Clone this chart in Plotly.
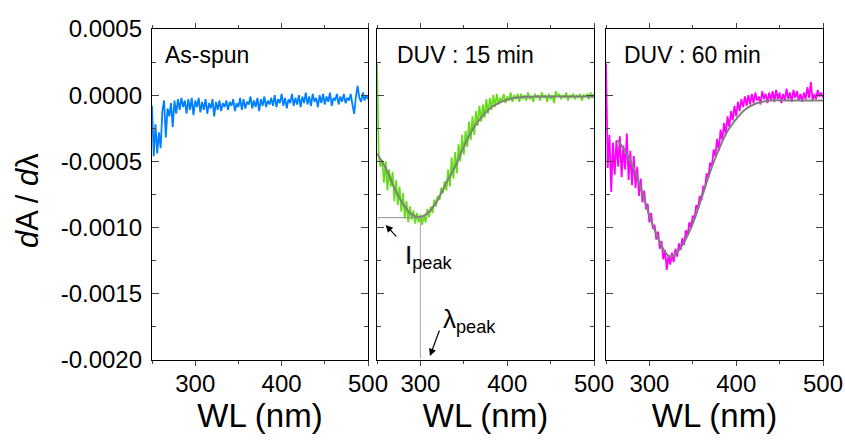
import plotly.graph_objects as go
from plotly.subplots import make_subplots

# wavelength grid (nm), 2 nm steps
wl = list(range(250, 501, 2))

# dA/dλ values in units of 1e-4
as_spun_e4 = [
    -0.8, -4.6, -2.2, -4.4, -2.8, -4.0, -1.2, -0.4, -3.2, -1.0,
    -1.6, -0.6, -2.4, -0.4, -1.4, -0.3, -1.1, -0.2, -0.9, -0.4,
    -1.4, -0.3, -1.1, -0.2, -1.5, -0.4, -0.9, -0.2, -1.3, -0.5,
    -1.1, -0.3, -1.4, -0.6, -1.0, -0.3, -1.6, -0.5, -1.1, -0.4,
    -1.2, -0.6, -0.9, -0.4, -1.1, -0.5, -0.8, -0.3, -1.2, -0.6,
    -0.9, -0.2, -1.1, -0.3, -1.0, -0.5, -0.7, -0.1, -1.0, -0.4,
    -0.9, -0.2, -1.2, -0.3, -0.8, -0.1, -0.9, -0.4, -0.7, -0.2,
    -0.8, 0.0, -0.9, -0.3, -0.6, 0.1, -0.8, -0.2, -1.0, -0.3,
    -0.6, 0.1, -0.8, -0.2, -0.7, 0.0, -0.9, -0.1, -0.6, 0.2,
    -0.7, -0.1, -0.8, 0.1, -0.5, -0.2, -0.9, 0.0, -0.6, 0.1,
    -0.7, -0.1, -0.5, 0.2, -0.8, -0.2, -0.4, 0.1, -0.7, -0.1,
    -0.5, 0.1, -0.6, -0.2, -0.4, 0.1, -0.7, -1.4, -0.1, 0.7,
    -0.2, -0.5, 0.2, -0.4, 0.0, -0.3,
]

duv15_e4 = [
    2.4, -4.6, -5.4, -4.9, -6.6, -5.0, -7.2, -5.6, -6.9, -5.8,
    -8.0, -6.4, -8.3, -6.9, -8.8, -7.4, -9.3, -8.0, -9.6, -8.4,
    -9.4, -8.7, -9.7, -8.9, -9.6, -9.0, -9.8, -9.1, -9.6, -8.6,
    -9.2, -8.4, -8.9, -7.9, -8.4, -7.6, -7.9, -7.0, -7.4, -6.5,
    -7.2, -5.6, -6.9, -4.7, -6.3, -4.3, -5.9, -3.7, -5.0, -3.0,
    -4.5, -2.7, -3.9, -2.0, -3.4, -1.6, -3.0, -1.2, -2.3, -0.8,
    -2.0, -0.7, -1.7, -0.3, -1.4, -0.2, -1.1, 0.0, -0.9, 0.1,
    -0.7, -0.2, -0.5, 0.1, -0.6, -0.1, -0.4, 0.2, -0.5, 0.0,
    -0.3, 0.1, -0.5, 0.1, -0.3, 0.0, -0.4, 0.2, -0.3, -0.1,
    -0.5, 0.1, -0.2, 0.0, -0.4, 0.2, -0.2, 0.0, -0.5, 0.1,
    -0.3, 0.0, -0.6, 0.3, -0.1, 0.1, -0.3, 0.0, -0.2, 0.2,
    -0.4, 0.0, -0.2, 0.1, -0.3, 0.0, -0.2, 0.1, -0.4, 0.0,
    -0.1, 0.1, -0.3, 0.2, -0.2, 0.1,
]

duv60_e4 = [
    2.4, -5.5, -3.0, -7.3, -3.6, -6.0, -3.4, -5.4, -3.1, -6.2,
    -3.8, -5.6, -2.9, -6.4, -4.2, -6.8, -4.6, -7.0, -5.4, -7.6,
    -6.3, -8.1, -7.2, -8.6, -8.2, -9.6, -8.9, -10.1, -9.8, -10.9,
    -10.3, -11.6, -11.0, -12.4, -11.7, -13.2, -12.1, -12.8, -11.9, -12.6,
    -11.6, -12.2, -11.2, -11.7, -10.8, -11.3, -10.2, -10.6, -9.6, -10.0,
    -9.1, -9.3, -8.3, -8.6, -7.6, -7.9, -6.9, -7.0, -5.9, -6.2,
    -5.1, -5.4, -4.1, -4.6, -3.3, -4.2, -2.6, -3.4, -2.1, -3.0,
    -1.6, -2.4, -1.2, -1.9, -0.8, -1.6, -0.5, -1.2, -0.3, -0.9,
    -0.1, -0.8, 0.0, -0.7, 0.1, -0.6, 0.2, -0.4, -0.1, -0.7,
    0.3, -0.3, 0.1, -0.6, 0.2, -0.4, 0.3, -0.5, 0.4, -0.3,
    0.2, -0.6, 0.1, -0.4, 0.5, -0.3, 0.2, -0.5, 0.4, -0.2,
    0.3, -0.4, 0.1, -0.5, 0.2, -0.3, 0.6, -0.2, 1.0, -0.4,
    0.1, -0.3, 0.4, -0.1, 0.2, -0.2,
]

# gaussian-like fit curves (gray)
fit15_wl = [250, 260, 270, 280, 290, 300, 310, 320, 330, 340, 350, 360,
            370, 380, 390, 400, 410, 420, 440, 460, 480, 500]
fit15_e4 = [-4.4, -5.5, -7.0, -8.2, -9.0, -9.2, -8.8, -7.9, -6.6, -5.4, -3.9, -2.6,
            -1.7, -1.0, -0.6, -0.35, -0.2, -0.12, -0.1, -0.1, -0.1, -0.1]

fit60_wl = [263, 270, 280, 290, 300, 310, 320, 325, 330, 340, 350, 360, 370,
            380, 390, 400, 410, 420, 430, 440, 460, 480, 500]
fit60_e4 = [-3.4, -4.0, -5.2, -7.0, -9.1, -10.8, -12.0, -12.2, -12.0, -11.1, -9.7, -7.8, -5.8,
            -4.1, -2.7, -1.8, -1.1, -0.7, -0.5, -0.4, -0.4, -0.4, -0.4]

peak_wl = 300
peak_val = -0.000925

y_vals = [0.0005, 0.0, -0.0005, -0.0010, -0.0015, -0.0020]
y_text = ["0.0005", "0.0000", "-0.0005", "-0.0010", "-0.0015", "-0.0020"]

panel_labels = ["As-spun", "DUV : 15 min", "DUV : 60 min"]


def e4(vals):
    return [v * 1e-4 for v in vals]


W, H = 845, 440
font = "Liberation Sans, Arial, sans-serif"

fig = make_subplots(rows=1, cols=3)

fig.add_trace(go.Scatter(x=wl, y=e4(as_spun_e4), mode="lines",
                         line=dict(color="#0080FF", width=1.8)), row=1, col=1)
fig.add_trace(go.Scatter(x=wl, y=e4(duv15_e4), mode="lines",
                         line=dict(color="#66DD1A", width=1.8)), row=1, col=2)
fig.add_trace(go.Scatter(x=fit15_wl, y=e4(fit15_e4), mode="lines",
                         line=dict(color="#808080", width=2, shape="spline")), row=1, col=2)
fig.add_trace(go.Scatter(x=wl, y=e4(duv60_e4), mode="lines",
                         line=dict(color="#FF00FF", width=1.8)), row=1, col=3)
fig.add_trace(go.Scatter(x=fit60_wl, y=e4(fit60_e4), mode="lines",
                         line=dict(color="#808080", width=2, shape="spline")), row=1, col=3)

# peak guide lines
fig.add_trace(go.Scatter(x=[250, peak_wl], y=[peak_val, peak_val], mode="lines",
                         line=dict(color="#909090", width=1)), row=1, col=2)
fig.add_trace(go.Scatter(x=[peak_wl, peak_wl], y=[peak_val, -0.00199], mode="lines",
                         line=dict(color="#A8A8A8", width=1)), row=1, col=2)

# panel pixel boxes
x_doms = [(152, 368), (377, 594), (606, 823)]
y_top, y_bot = 29, 360

for i, (x0, x1) in enumerate(x_doms, start=1):
    fig.update_xaxes(
        domain=[x0 / W, x1 / W], range=[250, 500], dtick=100, tick0=0,
        ticks="outside", ticklen=5, tickwidth=1.3, showline=True, linewidth=1.3,
        linecolor="black", mirror="ticks", showgrid=False, zeroline=False,
        automargin=False, ticklabelstandoff=-3,
        tickfont=dict(family=font, size=24, color="black"),
        minor=dict(dtick=50, ticks="outside", ticklen=3, tickwidth=1.3),
        title=dict(text="WL (nm)", font=dict(family=font, size=33, color="black"),
                   standoff=6),
        row=1, col=i,
    )
    fig.update_yaxes(
        domain=[1 - y_bot / H, 1 - y_top / H], range=[-0.0020, 0.0005],
        tickvals=y_vals, ticktext=y_text if i == 1 else [""] * len(y_vals),
        showticklabels=(i == 1), automargin=False, ticklabelstandoff=4,
        ticks="inside", ticklen=7, tickwidth=1.3, showline=True, linewidth=1.3,
        linecolor="black", mirror="ticks", showgrid=False, zeroline=False,
        tickfont=dict(family=font, size=24, color="black"),
        minor=dict(tickvals=[0.00025, -0.00025, -0.00075, -0.00125, -0.00175],
                   ticks="inside", ticklen=4, tickwidth=1.3),
        row=1, col=i,
    )

annotations = [
    dict(x=262.7, y=0.0003, xref="x", yref="y", text=panel_labels[0]),
    dict(x=270.7, y=0.0003, xref="x2", yref="y2", text=panel_labels[1]),
    dict(x=268.4, y=0.0003, xref="x3", yref="y3", text=panel_labels[2]),
]
for a in annotations:
    a.update(showarrow=False, xanchor="left", yanchor="middle",
             font=dict(family=font, size=23, color="black"))

# y axis title
annotations.append(dict(
    x=27 / W, y=1 - 201 / H, xref="paper", yref="paper", showarrow=False,
    text="<i>d</i>A / <i>d</i>λ", textangle=-90, xanchor="center", yanchor="middle",
    font=dict(family=font, size=31, color="black"),
))

# I_peak and λ_peak labels with arrows
annotations += [
    dict(x=260, y=-0.00098, xref="x2", yref="y2", ax=12, ay=13, text="",
         showarrow=True, arrowhead=2, arrowsize=1.2, arrowwidth=1.2, arrowcolor="black"),
    dict(x=311, y=-0.00197, xref="x2", yref="y2", ax=10, ay=-27, text="",
         showarrow=True, arrowhead=2, arrowsize=1.2, arrowwidth=1.2, arrowcolor="black"),
    dict(x=280, y=-0.00122, xref="x2", yref="y2", showarrow=False,
         text="I<sub>peak</sub>", xanchor="left", yanchor="middle",
         font=dict(family=font, size=26, color="black")),
    dict(x=323.5, y=-0.0017, xref="x2", yref="y2", showarrow=False,
         text="λ<sub>peak</sub>", xanchor="left", yanchor="middle",
         font=dict(family=font, size=26, color="black")),
]

fig.update_layout(
    width=W, height=H,
    margin=dict(l=0, r=0, t=0, b=0),
    plot_bgcolor="white", paper_bgcolor="white",
    showlegend=False,
    annotations=annotations,
    font=dict(family=font, color="black"),
)

# drop the default page margin so the figure sits at the window's corner
fig.write_html("out.html", config={"displayModeBar": False},
               post_script="document.body.style.margin = '0';")
